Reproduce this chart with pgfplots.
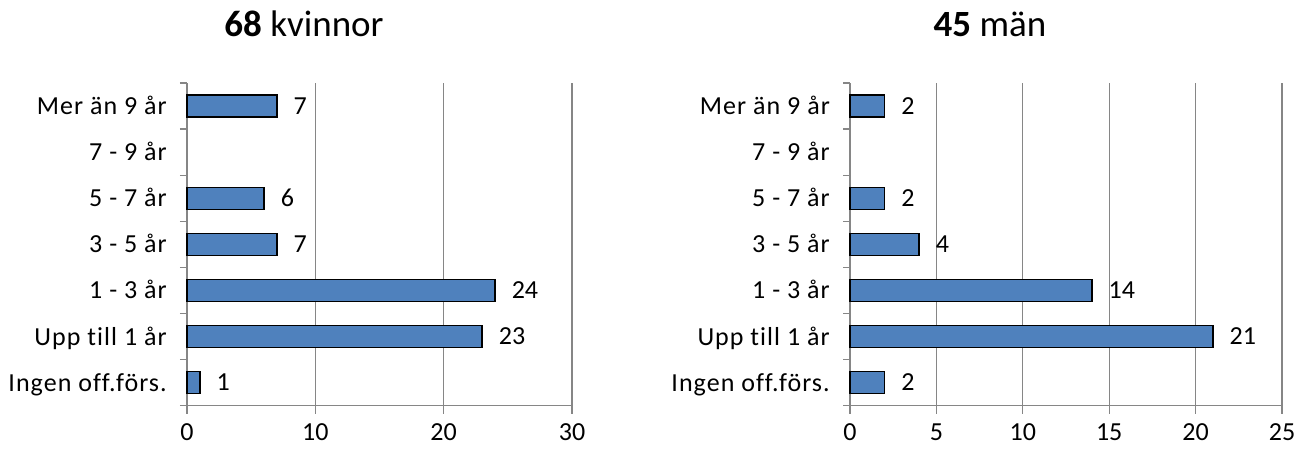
\documentclass[border=0pt]{standalone}
\usepackage{pgfplots}
\pgfplotsset{compat=1.18}
\usepackage{fontspec}
\setmainfont[Ligatures=NoCommon]{Carlito}
\newfontfamily\labfont[Ligatures=NoCommon, LetterSpace=4]{Carlito}
\definecolor{barblue}{HTML}{4F81BD}
\definecolor{axgray}{HTML}{868686}

\pgfplotsset{
  myaxis/.style={
    xbar, scale only axis, height=322.7pt,
    anchor=south west,
    ymin=-0.5, ymax=6.5,
    ytick={0,...,6},
    yticklabels={Ingen off.förs., Upp till 1 år, 1 - 3 år, 3 - 5 år, 5 - 7 år, 7 - 9 år, Mer än 9 år},
    minor ytick={-0.5,0.5,...,6.5},
    axis x line*=bottom, axis y line*=left,
    axis line style={axgray, line width=1.3pt, -},
    tick align=outside,
    major tick length=8pt, minor tick length=7pt,
    major y tick style={draw=none},
    minor y tick style={axgray, line width=1.3pt},
    major x tick style={axgray, line width=1.3pt},
    xmajorgrids, major grid style={axgray, line width=1.3pt},
    /pgf/number format/assume math mode=true,
    xticklabel style={font=\fontsize{26}{30}\selectfont, text height=17pt, text depth=0pt, inner sep=0pt, yshift=-10pt},
    yticklabel style={font=\labfont\fontsize{26}{30}\selectfont, text height=17pt, text depth=0pt, inner sep=0pt, anchor=east, xshift=-12pt},
    bar width=22pt,
    nodes near coords,
    nodes near coords style={font=\fontsize{26}{30}\selectfont, text height=16.5pt, text depth=0pt, inner sep=0pt, anchor=west, xshift=16pt, black},
    title style={font=\fontsize{37}{44}\selectfont, anchor=base, inner sep=0pt},
    clip=false,
  }
}

\begin{document}
\begin{tikzpicture}
\useasboundingbox (0,0) rectangle (1297pt,450pt);
\begin{axis}[myaxis, at={(187pt,44.3pt)}, width=385pt,
  xmin=0, xmax=30, xtick={0,10,20,30},
  title={\textbf{68} kvinnor},
  title style={at={(axis description cs:0.304,1.127)}}]
\addplot[fill=barblue, draw=black, line width=1.5pt] coordinates {
 (1,0) (23,1) (24,2) (7,3) (6,4) (7,6)};
\end{axis}
\begin{axis}[myaxis, at={(850pt,44.3pt)}, width=432pt,
  xmin=0, xmax=25, xtick={0,5,10,15,20,25},
  title={\textbf{45} män},
  title style={at={(axis description cs:0.324,1.127)}}]
\addplot[fill=barblue, draw=black, line width=1.5pt] coordinates {
 (2,0) (21,1) (14,2) (4,3) (2,4) (2,6)};
\end{axis}
\end{tikzpicture}
\end{document}
